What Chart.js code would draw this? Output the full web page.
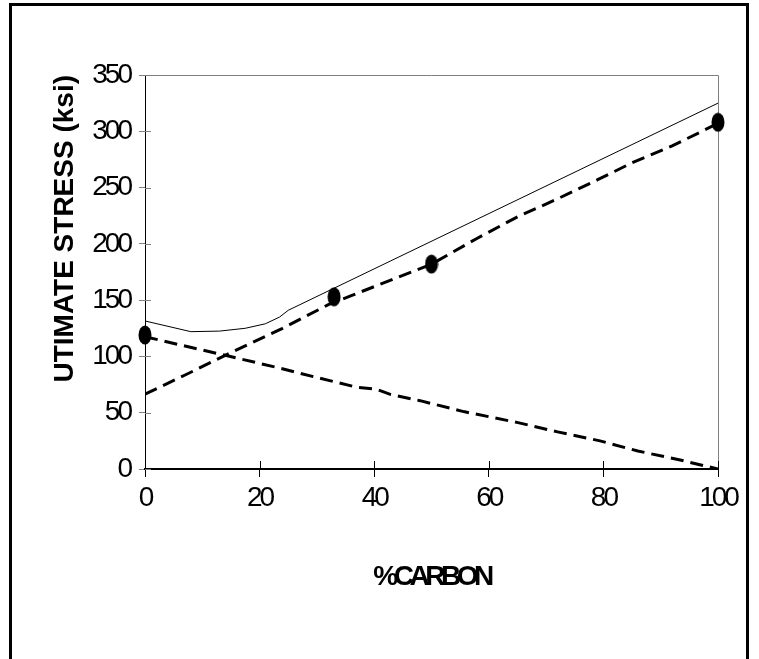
<!DOCTYPE html>
<html><head><meta charset="utf-8">
<script src="https://cdn.jsdelivr.net/npm/chart.js@4/dist/chart.umd.min.js"></script>
<style>html,body{margin:0;padding:0;background:#fff}canvas{display:block}</style>
</head><body>
<canvas id="c" width="759" height="659"></canvas>
<script>
// ---- data ----
const xTitle = '%CARBON';
const yTitle = 'UTIMATE STRESS (ksi)';
const xTickValues = [0, 20, 40, 60, 80, 100];
const yTickValues = [0, 50, 100, 150, 200, 250, 300, 350];

// measured points (filled ellipses)
const measuredX = [0, 33, 50, 100];
const measuredY = [119, 153, 182, 308];

// thin solid curve (combined)
const solidX = [0, 8, 13, 17.5, 21, 23.5, 25, 100];
const solidY = [131.5, 122, 122.5, 125, 129, 135, 141, 325];

// rising dashed line
const risingX = [0, 7, 14, 24, 32, 36, 43, 50, 58, 65, 72, 79, 85, 92, 100];
const risingY = [66.5, 83.5, 101, 125, 146, 154, 168, 182, 205, 224, 240, 257, 272, 287, 307];

// falling dashed line
const fallingX = [0, 14, 23.6, 29.4, 37, 40.4, 42.8, 48, 55.6, 64.9, 72, 79.4, 86, 93.4, 100];
const fallingY = [117.5, 101, 89.5, 82, 72.6, 70.8, 66.3, 60.7, 51, 41.4, 33, 25, 16, 8, 0];

const pts = (xs, ys) => xs.map((x, i) => ({x, y: ys[i]}));

// ellipse marker image
const mk = document.createElement('canvas');
mk.width = 14; mk.height = 20;
const mctx = mk.getContext('2d');
mctx.fillStyle = '#000';
mctx.beginPath(); mctx.ellipse(7, 10, 6.5, 9.5, 0, 0, Math.PI * 2); mctx.fill();

const decor = {
  id: 'decor',
  beforeDraw(chart) {
    const ctx = chart.ctx;
    ctx.save();
    ctx.fillStyle = '#fff'; ctx.fillRect(0, 0, chart.width, chart.height);
    ctx.strokeStyle = '#000'; ctx.lineWidth = 3;
    ctx.strokeRect(10.5, 4.5, 737, 720);
    ctx.restore();
    ctx.letterSpacing = '-3px';
    for (const s of [chart.scales.x, chart.scales.y]) {
      if (!s.__patched) {
        s.__patched = true;
        const orig = s.drawTitle;
        s.drawTitle = function () {
          const c = this.ctx;
          const prev = c.letterSpacing;
          c.letterSpacing = this.axis === 'x' ? '-4.5px' : '0px';
          orig.call(this);
          c.letterSpacing = prev;
        };
      }
    }
  },
  beforeDatasetsDraw(chart) {
    const ctx = chart.ctx, a = chart.chartArea;
    const xs = chart.scales.x, ys = chart.scales.y;
    ctx.save();
    ctx.strokeStyle = '#808080'; ctx.lineWidth = 1;
    ctx.beginPath();
    ctx.moveTo(a.left, a.top + 0.5); ctx.lineTo(a.right + 0.5, a.top + 0.5);
    ctx.lineTo(a.right + 0.5, a.bottom);
    ctx.stroke();
    // inner halves of tick marks
    ctx.beginPath();
    for (const v of yTickValues) {
      const y = Math.round(ys.getPixelForValue(v)) + 0.5;
      ctx.moveTo(a.left, y); ctx.lineTo(a.left + 6, y);
    }
    ctx.stroke();
    ctx.strokeStyle = '#000';
    ctx.beginPath();
    for (const v of xTickValues) {
      const x = Math.round(xs.getPixelForValue(v)) + 0.5;
      ctx.moveTo(x, a.bottom); ctx.lineTo(x, a.bottom - 8);
    }
    ctx.stroke();
    ctx.restore();
  }
};

new Chart(document.getElementById('c'), {
  type: 'scatter',
  data: {
    datasets: [
      {label: 'measured', data: pts(measuredX, measuredY), showLine: false,
       pointStyle: mk, pointRadius: 7, backgroundColor: '#000', borderColor: '#000', clip: false},
      {label: 'combined', data: pts(solidX, solidY), showLine: true, borderColor: '#000',
       borderWidth: 1, pointRadius: 0, tension: 0},
      {label: 'rising', data: pts(risingX, risingY), showLine: true, borderColor: '#000',
       borderWidth: 3, borderDash: [13, 7], pointRadius: 0, tension: 0},
      {label: 'falling', data: pts(fallingX, fallingY), showLine: true, borderColor: '#000',
       borderWidth: 3, borderDash: [13, 7], pointRadius: 0, tension: 0}
    ]
  },
  options: {
    responsive: false,
    animation: false,
    layout: {padding: {left: 0, top: 75, right: 41, bottom: 0}},
    plugins: {legend: {display: false}, tooltip: {enabled: false}},
    scales: {
      x: {
        type: 'linear', min: xTickValues[0], max: xTickValues[xTickValues.length - 1],
        afterFit(s) { s.height = 190; },
        afterBuildTicks(s) { s.ticks = xTickValues.map(v => ({value: v})); },
        grid: {drawOnChartArea: false, color: '#000', tickLength: 8, lineWidth: 1},
        border: {color: '#000', width: 2},
        ticks: {color: '#000', padding: 4, font: {family: 'Liberation Sans, Arial, sans-serif', size: 28}},
        title: {display: true, text: xTitle, color: '#000', padding: {top: 0, bottom: 65},
          font: {family: 'Liberation Sans, Arial, sans-serif', size: 28, weight: 'bold'}}
      },
      y: {
        type: 'linear', min: yTickValues[0], max: yTickValues[yTickValues.length - 1],
        afterFit(s) { s.width = 145; },
        afterBuildTicks(s) { s.ticks = yTickValues.map(v => ({value: v})); },
        grid: {drawOnChartArea: false, color: '#808080', tickLength: 6, lineWidth: 1},
        border: {color: '#000', width: 1},
        ticks: {color: '#000', padding: 9, font: {family: 'Liberation Sans, Arial, sans-serif', size: 28}},
        title: {display: true, text: yTitle, color: '#000', align: 'end', padding: {top: 48, bottom: 0},
          font: {family: 'Liberation Sans, Arial, sans-serif', size: 28, weight: 'bold'}}
      }
    }
  },
  plugins: [decor]
});
</script>
</body></html>
